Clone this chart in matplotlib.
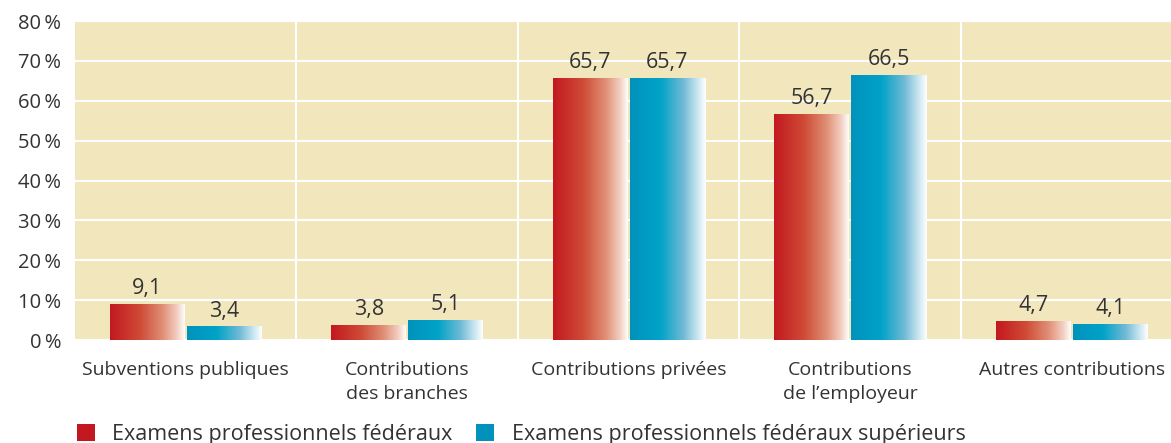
import matplotlib
matplotlib.use("Agg")
import matplotlib.pyplot as plt
import numpy as np
from matplotlib.colors import LinearSegmentedColormap
from matplotlib.patches import Patch

categories = ["Subventions publiques", "Contributions\ndes branches", "Contributions privées",
              "Contributions\nde l\u2019employeur", "Autres contributions"]
series_names = ["Examens professionnels fédéraux", "Examens professionnels fédéraux supérieurs"]
values_fed = [9.1, 3.8, 65.7, 56.7, 4.7]
values_sup = [3.4, 5.1, 65.7, 66.5, 4.1]
yticks = [0, 10, 20, 30, 40, 50, 60, 70, 80]

plt.rcParams['font.family'] = ['Open Sans', 'DejaVu Sans']
W, H = 1171, 443
fig = plt.figure(figsize=(W/100, H/100), dpi=100)
left, right, top, bottom = 75, 1171, 21, 340
ax = fig.add_axes([left/W, 1-bottom/H, (right-left)/W, (bottom-top)/H])
bg = '#F2E6BC'
ax.set_facecolor(bg)

cw = 221.5
x = np.arange(len(categories))
bw = 75/cw
off = 1/cw

red_cmap = LinearSegmentedColormap.from_list('r', [(0, '#C3181F'), (0.4, '#CF4B36'), (0.7, '#E08E76'), (0.9, '#F3CFC2'), (1.0, '#FFFFFF')])
blue_cmap = LinearSegmentedColormap.from_list('b', [(0, '#0092BC'), (0.4, '#00A3C8'), (0.7, '#6FB9D5'), (0.92, '#D9EDF5'), (1.0, '#FFFFFF')])
grad = np.linspace(0, 1, 256).reshape(1, -1)

def gradient_bars(xs, vals, cmap, solid):
    bars = ax.bar(xs, vals, width=bw, color=solid, zorder=3, linewidth=0)
    for b in bars:
        x0, y0 = b.get_x(), b.get_y()
        im = ax.imshow(grad, cmap=cmap, aspect='auto', extent=[x0, x0 + b.get_width(), y0, y0 + b.get_height()],
                       zorder=4, interpolation='bicubic')
        im.set_clip_path(b)
    return bars

b1 = gradient_bars(x - bw/2 - off, values_fed, red_cmap, '#C3181F')
b2 = gradient_bars(x + bw/2 + off, values_sup, blue_cmap, '#0092BC')
ax.set_xlim(-0.5, -0.5 + (right-left)/cw)
ax.set_ylim(0, 80)

for bars, vals in ((b1, values_fed), (b2, values_sup)):
    for b, v in zip(bars, vals):
        ax.text(b.get_x() + b.get_width()/2, v + 1.2, f"{v:.1f}".replace('.', ','), ha='center', va='bottom',
                fontsize=15.5, color='#333333', zorder=5)

ax.set_yticks(yticks)
ax.set_yticklabels([f"{t}\u2009%" for t in yticks], fontsize=14.5, color='#333333')
ax.yaxis.grid(True, color='white', linewidth=1.5, zorder=1)
ax.set_axisbelow(True)
for bnd in np.arange(0.5, len(categories) - 0.5, 1):
    ax.axvline(bnd, color='white', linewidth=1.5, zorder=1)
ax.set_xticks(x)
ax.set_xticklabels(categories, fontsize=14, color='#333333', linespacing=1.45, va='top')
ax.tick_params(axis='both', length=0)
ax.tick_params(axis='x', pad=15)
ax.tick_params(axis='y', pad=10)
for s in ax.spines.values():
    s.set_visible(False)

handles = [Patch(facecolor='#C3181F', edgecolor='none'), Patch(facecolor='#0092BC', edgecolor='none')]
leg = fig.legend(handles, series_names, loc='upper left', bbox_to_anchor=(77/W, 1 - 424/H), ncol=2, frameon=False,
                 fontsize=15.5, handlelength=0.84, handleheight=0.84, handletextpad=0.8, columnspacing=1.1,
                 borderpad=0, borderaxespad=0, labelcolor='#333333')

fig.savefig('out.png', dpi=100)
